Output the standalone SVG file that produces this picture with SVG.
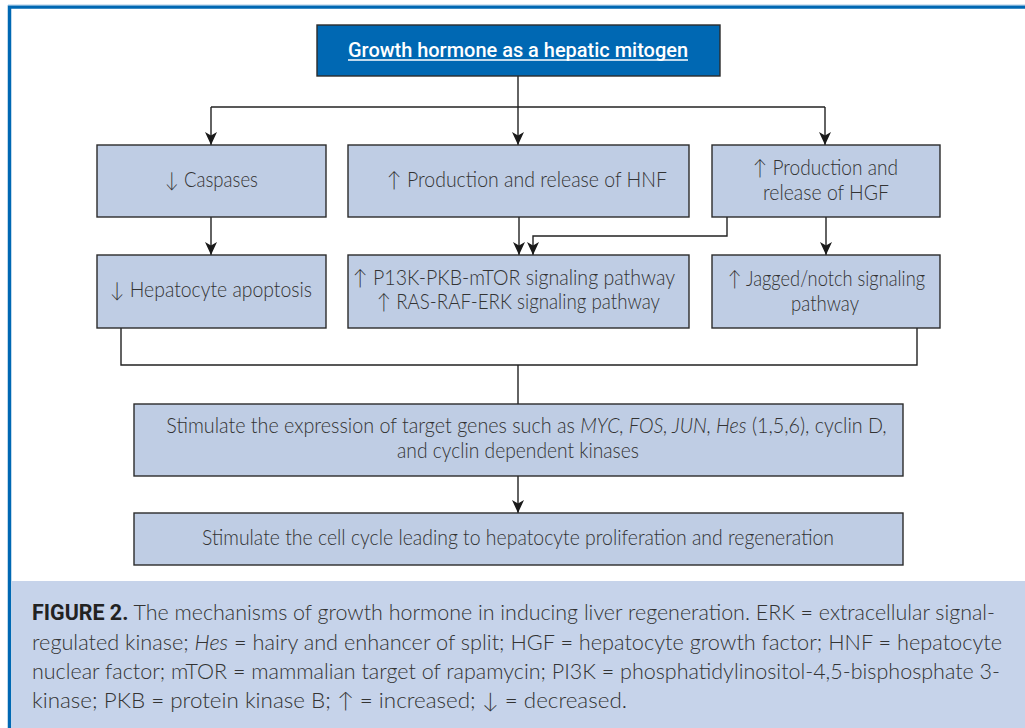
<svg xmlns="http://www.w3.org/2000/svg" width="1025" height="728" viewBox="0 0 1025 728">
  <defs>
    <marker id="arr" markerUnits="userSpaceOnUse" markerWidth="14" markerHeight="12" viewBox="0 0 14 12" refX="13" refY="6" orient="auto">
      <path d="M0,0 L13,6 L0,12 L3.5,6 Z" fill="#1a1a1a"/>
    </marker>
    <style>
      .box { fill: #bfcde4; stroke: #2b2b2b; stroke-width: 1.4; }
      .t { font-family: Lato, "Open Sans", "DejaVu Sans", sans-serif; font-size: 21px; fill: #333333; font-weight: 300; }
      .cap { font-family: Lato, "Open Sans", "DejaVu Sans", sans-serif; font-size: 21.5px; fill: #333333; font-weight: 300; }
      .conn { fill: none; stroke: #222222; stroke-width: 1.4; }
      .title { font-family: Roboto, "Liberation Sans", sans-serif; font-size: 21px; font-weight: 500; fill: #ffffff; }
    </style>
  </defs>
  <rect x="0" y="0" width="1025" height="728" fill="#ffffff"/>
  <!-- frame -->
  <rect x="9.5" y="7" width="1030" height="740" fill="none" stroke="#0068b3" stroke-width="3.5"/>
  <line x1="8" y1="5" x2="1025" y2="5" stroke="#a8cbe8" stroke-width="1"/>
  <!-- caption background -->
  <rect x="11.5" y="581" width="1014" height="147" fill="#c6d3ea"/>

  <g id="connectors">
    <path class="conn" d="M518,76 V107"/>
    <path class="conn" d="M211,107 H825"/>
    <path class="conn" d="M211,107 V145" marker-end="url(#arr)"/>
    <path class="conn" d="M518,107 V145" marker-end="url(#arr)"/>
    <path class="conn" d="M825,107 V145" marker-end="url(#arr)"/>
    <path class="conn" d="M211,217 V255" marker-end="url(#arr)"/>
    <path class="conn" d="M519,217 V255" marker-end="url(#arr)"/>
    <path class="conn" d="M727,217 V236 H533 V255" marker-end="url(#arr)"/>
    <path class="conn" d="M826,217 V255" marker-end="url(#arr)"/>
    <path class="conn" d="M121,328 V365 H917 V328"/>
    <path class="conn" d="M518,365 V404"/>
    <path class="conn" d="M518,476 V513" marker-end="url(#arr)"/>
  </g>

  <g id="title">
    <rect x="317" y="25" width="403" height="51" fill="#0068b3" stroke="#2b2b2b" stroke-width="1.4"/>
    <text class="title" x="348" y="57" textLength="340" lengthAdjust="spacingAndGlyphs">Growth hormone as a hepatic mitogen</text>
    <line x1="348" y1="60" x2="688" y2="60" stroke="#ffffff" stroke-width="1.3"/>
  </g>

  <g id="caspases">
    <rect class="box" x="97" y="145" width="229" height="72"/>
    <text class="t" x="165" y="187" textLength="93" lengthAdjust="spacingAndGlyphs">↓ Caspases</text>
  </g>
  <g id="hnf">
    <rect class="box" x="348" y="145" width="341" height="72"/>
    <text class="t" x="387" y="187" textLength="280" lengthAdjust="spacingAndGlyphs">↑ Production and release of HNF</text>
  </g>
  <g id="hgf">
    <rect class="box" x="712" y="145" width="228" height="72"/>
    <text class="t" x="753" y="175" textLength="145" lengthAdjust="spacingAndGlyphs">↑ Production and</text>
    <text class="t" x="763" y="200" textLength="126" lengthAdjust="spacingAndGlyphs">release of HGF</text>
  </g>
  <g id="apoptosis">
    <rect class="box" x="97" y="255" width="229" height="73"/>
    <text class="t" x="110" y="297" textLength="202" lengthAdjust="spacingAndGlyphs">↓ Hepatocyte apoptosis</text>
  </g>
  <g id="pi3k">
    <rect class="box" x="348" y="255" width="341" height="73"/>
    <text class="t" x="353" y="285" textLength="322" lengthAdjust="spacingAndGlyphs">↑ P13K-PKB-mTOR signaling pathway</text>
    <text class="t" x="377" y="309" textLength="283" lengthAdjust="spacingAndGlyphs">↑ RAS-RAF-ERK signaling pathway</text>
  </g>
  <g id="jagged">
    <rect class="box" x="712" y="255" width="228" height="73"/>
    <text class="t" x="728" y="286" textLength="197" lengthAdjust="spacingAndGlyphs">↑ Jagged/notch signaling</text>
    <text class="t" x="791" y="311" textLength="68" lengthAdjust="spacingAndGlyphs">pathway</text>
  </g>
  <g id="targets">
    <rect class="box" x="134" y="404" width="769" height="72"/>
    <text class="t" x="526.5" y="433" font-size="19.5" text-anchor="middle" transform="translate(526.5,0) scale(0.94,1) translate(-526.5,0)">Stimulate the expression of target genes such as <tspan font-style="italic">MYC, FOS, JUN, Hes</tspan> (1,5,6), cyclin D,</text>
    <text class="t" x="397" y="458" textLength="242" lengthAdjust="spacingAndGlyphs">and cyclin dependent kinases</text>
  </g>
  <g id="cellcycle">
    <rect class="box" x="134" y="513" width="769" height="52"/>
    <text class="t" x="202" y="545" textLength="632" lengthAdjust="spacingAndGlyphs">Stimulate the cell cycle leading to hepatocyte proliferation and regeneration</text>
  </g>

  <g id="caption">
    <text class="cap" x="32" y="620" textLength="963" lengthAdjust="spacingAndGlyphs"><tspan font-family="Roboto, 'Liberation Sans', sans-serif" font-weight="700" fill="#222">FIGURE 2.</tspan> The mechanisms of growth hormone in inducing liver regeneration. ERK = extracellular signal-</text>
    <text class="cap" x="32" y="649.5" textLength="970" lengthAdjust="spacingAndGlyphs">regulated kinase; <tspan font-style="italic">Hes</tspan> = hairy and enhancer of split; HGF = hepatocyte growth factor; HNF = hepatocyte</text>
    <text class="cap" x="32" y="679" textLength="968" lengthAdjust="spacingAndGlyphs">nuclear factor; mTOR = mammalian target of rapamycin; PI3K = phosphatidylinositol-4,5-bisphosphate 3-</text>
    <text class="cap" x="32" y="708" textLength="595" lengthAdjust="spacingAndGlyphs">kinase; PKB = protein kinase B; ↑ = increased; ↓ = decreased.</text>
  </g>
</svg>
